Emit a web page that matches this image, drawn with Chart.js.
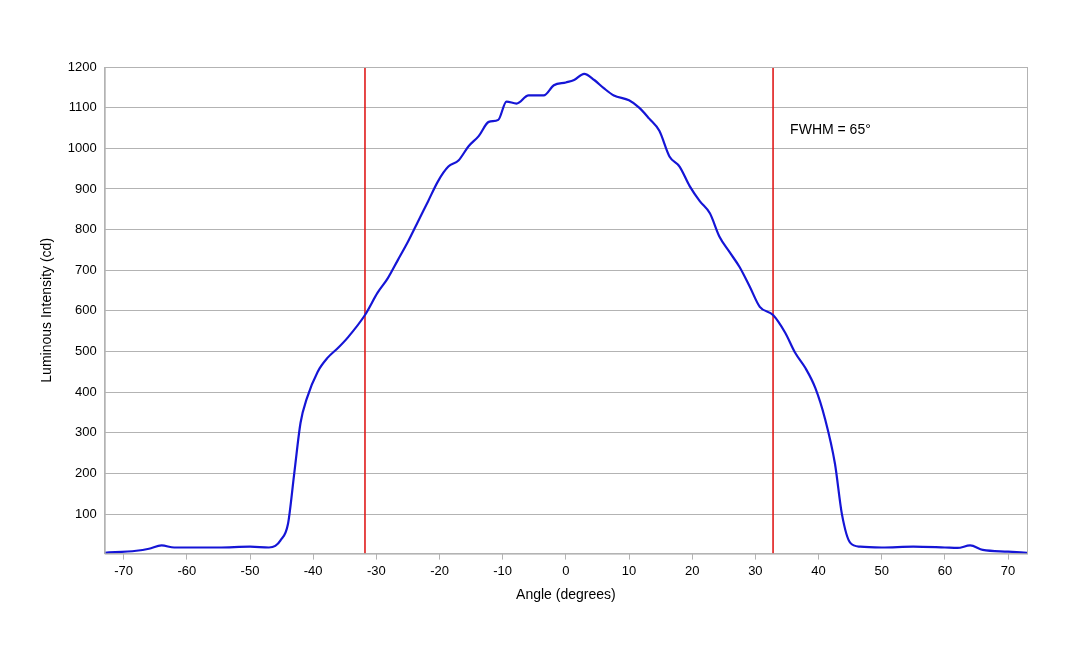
<!DOCTYPE html>
<html><head><meta charset="utf-8">
<script src="https://cdn.jsdelivr.net/npm/chart.js@4/dist/chart.umd.min.js"></script>
<style>html,body{margin:0;background:#fff}#wrap{width:1080px;height:648px}</style>
</head><body><div id="wrap"><canvas id="c"></canvas></div>
<script>
// angle (deg) and intensity (cd)
const angles = [-73,-68,-66,-64,-62,-60,-55,-50,-47,-46,-45.2,-44,-43,-42,-41,-39.3,-37.7,-36,-34.5,-31.8,-29.8,-28.2,-26.6,-25,-23.4,-21.8,-20.2,-18.6,-17,-15.4,-13.8,-12.2,-10.7,-9.4,-7.8,-5.9,-3.5,-1.9,0,1.3,2.9,4.5,6,7.6,10,11.6,13.2,14.8,16.4,18,19.6,21.2,22.8,24.3,25.9,27.5,29.1,30.7,32.8,34.7,36.3,37.9,39.5,41,42.6,43.7,45,46.6,50,55,60,62,64,66,70,73];
const intensity = [5,10,15,23,18,18,18,20,18,22,35,75,200,325,385,450,485,510,535,590,645,680,725,770,820,870,920,955,970,1005,1030,1065,1070,1115,1110,1130,1130,1155,1162,1168,1183,1168,1148,1130,1118,1100,1073,1043,980,955,907,870,840,783,745,708,660,610,590,547,497,460,410,336,224,100,30,20,18,20,18,17,23,12,8,5];
const fwhmLines = [-31.8, 32.8];
const xTicks = [-70,-60,-50,-40,-30,-20,-10,0,10,20,30,40,50,60,70];
const yTicks = [100,200,300,400,500,600,700,800,900,1000,1100,1200];

const txt = '#000', grid = '#b3b3b3', font = {family: 'Liberation Sans, Arial', size: 13};
const series = [{data: angles.map((a, i) => ({x: a, y: intensity[i]})), borderColor: '#1515d6', borderWidth: 2.2, cubicInterpolationMode: 'monotone', pointRadius: 0, fill: false}];
fwhmLines.forEach(v => series.push({data: [{x: v, y: 3}, {x: v, y: 1200}], borderColor: '#e01b1b', borderWidth: 1.6, pointRadius: 0}));

const label = {id: 'lbl', afterDraw(ch) {
  const ctx = ch.ctx, a = ch.chartArea, x = ch.scales.x.getPixelForValue(35.5), y = ch.scales.y.getPixelForValue(1045);
  ctx.save(); ctx.fillStyle = txt; ctx.font = '14px Liberation Sans, Arial'; ctx.textBaseline = 'middle';
  ctx.fillText('FWHM = 65°', x, y);
  ctx.strokeStyle = grid; ctx.lineWidth = 1; ctx.strokeRect(a.left + 0.5, a.top + 0.5, a.right - a.left, a.bottom - a.top);
  ctx.restore();
}};

new Chart(document.getElementById('c'), {
  type: 'line', data: {datasets: series}, plugins: [label],
  options: {
    responsive: true, maintainAspectRatio: false, animation: false,
    layout: {padding: {left: 35, right: 53, top: 67, bottom: 40}},
    plugins: {legend: {display: false}, tooltip: {enabled: false}},
    scales: {
      x: {type: 'linear', min: -73, max: 73,
        afterBuildTicks: s => { s.ticks = xTicks.map(v => ({value: v})); },
        grid: {display: true, drawOnChartArea: false, drawTicks: true, tickLength: 6, color: grid}, border: {color: grid},
        ticks: {color: txt, font, padding: 4, autoSkip: false, callback: v => String(v)},
        title: {display: true, text: 'Angle (degrees)', color: txt, font: {family: font.family, size: 14}}},
      y: {min: 3, max: 1200,
        afterBuildTicks: s => { s.ticks = yTicks.map(v => ({value: v})); },
        grid: {color: grid, drawTicks: false}, border: {color: grid},
        ticks: {color: txt, font, padding: 8, callback: v => String(v)},
        title: {display: true, text: 'Luminous Intensity (cd)', color: txt, font: {family: font.family, size: 14}}}
    }
  }
});
</script></body></html>
